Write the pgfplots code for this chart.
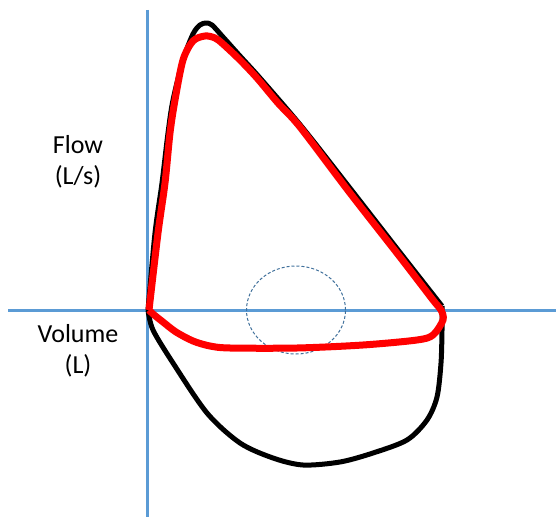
\documentclass[border=0pt]{standalone}
\usepackage{pgfplots}
\pgfplotsset{compat=1.18}
\usepackage{fontspec}
\setmainfont{Carlito}
\definecolor{axblue}{HTML}{5B9BD5}
\definecolor{ringblue}{HTML}{41719C}

\begin{document}
\begin{tikzpicture}
\begin{axis}[
  scale only axis, width=556pt, height=517pt,
  xmin=-148, xmax=408, ymin=-207, ymax=310,
  hide axis, clip=false,
]
% axes of the loop
\addplot[axblue, line width=3pt] coordinates {(-140,0) (408,0)};
\addplot[axblue, line width=3pt] coordinates {(-1,300) (-1,-207)};

% highlighted region
\draw[ringblue, line width=1pt, dash pattern=on 3pt off 2pt]
  (axis cs:148,0) ellipse [x radius=49.5, y radius=44];

% normal loop, expiration
\addplot[black, line width=5pt, smooth, line join=round] coordinates {
  (0,0) (7,77) (14,127) (20,177) (25,210) (35,250) (45,276) (52,285)
  (58,287) (64,285) (75,273) (92,254) (112,232) (154,183) (205,118)
  (254,55) (294,4)
};
% normal loop, inspiration
\addplot[black, line width=5pt, smooth, line join=round] coordinates {
  (294,4) (294,-20) (293,-53) (289,-87) (279,-110) (259,-130) (225,-143)
  (192,-152) (155,-155) (125,-148) (92,-133) (59,-103) (25,-53) (5,-20) (0,0)
};

% obstructed loop
\addplot[red, line width=7pt, smooth, line join=round] coordinates {
  (1,0) (10,77) (17,127) (22,177) (27,210) (35,250) (45,269) (57,274)
  (67,272) (75,266) (92,250) (109,232) (130,207) (152,183) (202,117) (252,53)
  (285,10) (293,0) (295,-10) (285,-25) (269,-30) (215,-35) (149,-38)
  (82,-38) (62,-36) (45,-31) (28,-22) (15,-12) (5,-4) (1,0)
};

\node[align=center, font=\fontsize{26}{31}\selectfont] at (axis cs:-70,148) {Flow\\(L/s)};
\node[align=center, font=\fontsize{26}{31}\selectfont] at (axis cs:-70,-41) {Volume\\(L)};
\end{axis}
\pgfresetboundingbox
\path (current axis.south west) rectangle (current axis.north east);
\end{tikzpicture}
\end{document}
